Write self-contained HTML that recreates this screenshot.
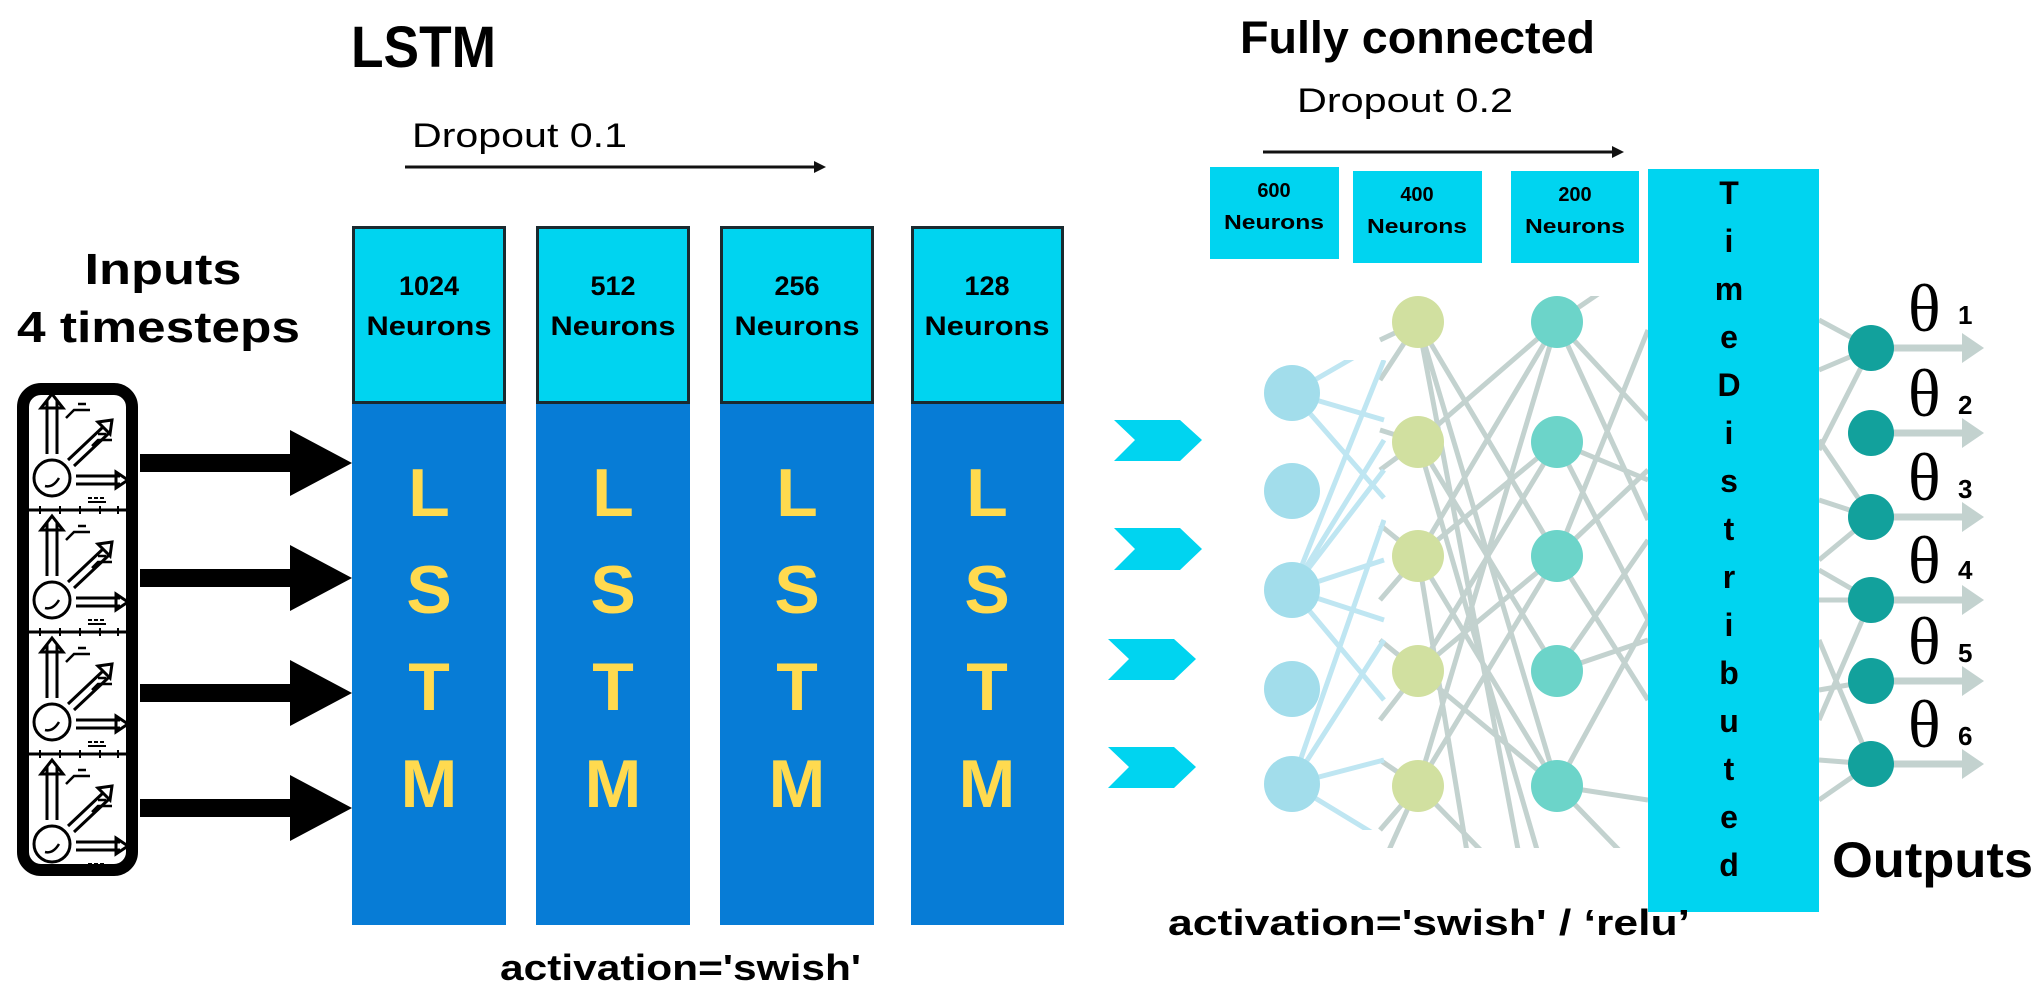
<!DOCTYPE html>
<html><head><meta charset="utf-8"><style>
html,body{margin:0;padding:0;background:#fff;}
svg{display:block;}
text{font-family:"Liberation Sans",sans-serif;}
</style></head><body>
<svg width="2043" height="997" viewBox="0 0 2043 997" xmlns="http://www.w3.org/2000/svg">
<defs>
<clipPath id="net"><rect x="1378" y="296" width="270" height="552"/></clipPath>
<clipPath id="net2"><rect x="1260" y="360" width="126" height="470"/></clipPath>
<g id="cell" fill="none" stroke="#000" stroke-width="3">
  <path d="M47 66 V12 M57 66 V12 M41 20 L52 6 L63 20 Z" fill="#fff"/>
  <circle cx="52" cy="90" r="18"/>
  <path d="M45 98 q8 2 14 -8" stroke-width="2.5"/>
  <path d="M68 72 L104 38 M74 78 L108 46 M98 34 L112 32 L110 46 Z"/>
  <path d="M76 88 H120 M76 96 H120 M116 84 L128 92 L116 100 Z"/>
  <path d="M66 30 L74 22 H90 M78 16 H86 M92 58 L98 52 H112 M98 46 H106" stroke-width="2.5"/>
  <path d="M88 110 H106" stroke-width="2" stroke-dasharray="4 2"/>
  <path d="M88 114 H106" stroke-width="2"/>
</g>
</defs>

<!-- LSTM title -->
<text x="351" y="67" font-size="58" font-weight="bold" textLength="145" lengthAdjust="spacingAndGlyphs">LSTM</text>
<text x="412" y="147" font-size="34" textLength="215" lengthAdjust="spacingAndGlyphs">Dropout 0.1</text>
<line x1="405" y1="167" x2="818" y2="167" stroke="#111" stroke-width="3"/>
<polygon points="814,161 826,167 814,173" fill="#111"/>

<!-- Inputs -->
<text x="163" y="284" font-size="44" font-weight="bold" text-anchor="middle" textLength="157" lengthAdjust="spacingAndGlyphs">Inputs</text>
<text x="17" y="342" font-size="44" font-weight="bold" textLength="283" lengthAdjust="spacingAndGlyphs">4 timesteps</text>
<rect x="23" y="389" width="109" height="481" rx="18" fill="#fff" stroke="#000" stroke-width="12"/>
<g stroke="#000" stroke-width="3">
<line x1="29" y1="510" x2="126" y2="510"/><line x1="29" y1="632" x2="126" y2="632"/><line x1="29" y1="754" x2="126" y2="754"/>
</g>
<g stroke="#000" stroke-width="2">
<path d="M40 506v8M60 506v8M80 506v8M100 506v8M118 506v8M40 628v8M60 628v8M80 628v8M100 628v8M118 628v8M40 750v8M60 750v8M80 750v8M100 750v8M118 750v8"/>
</g>
<use href="#cell" x="0" y="388"/>
<use href="#cell" x="0" y="510"/>
<use href="#cell" x="0" y="632"/>
<use href="#cell" x="0" y="754"/>
<!-- input arrows -->
<g fill="#000">
<rect x="140" y="454" width="155" height="18"/><polygon points="290,430 352,463 290,496"/>
<rect x="140" y="569" width="155" height="18"/><polygon points="290,545 352,578 290,611"/>
<rect x="140" y="684" width="155" height="18"/><polygon points="290,660 352,693 290,726"/>
<rect x="140" y="799" width="155" height="18"/><polygon points="290,775 352,808 290,841"/>
</g>

<!-- LSTM columns -->
<g>
<rect x="352" y="402" width="154" height="523" fill="#077CD6"/>
<rect x="536" y="402" width="154" height="523" fill="#077CD6"/>
<rect x="720" y="402" width="154" height="523" fill="#077CD6"/>
<rect x="911" y="402" width="153" height="523" fill="#077CD6"/>
<rect x="353.5" y="227.5" width="151" height="175" fill="#00D4F0" stroke="#1a2a30" stroke-width="3"/>
<rect x="537.5" y="227.5" width="151" height="175" fill="#00D4F0" stroke="#1a2a30" stroke-width="3"/>
<rect x="721.5" y="227.5" width="151" height="175" fill="#00D4F0" stroke="#1a2a30" stroke-width="3"/>
<rect x="912.5" y="227.5" width="150" height="175" fill="#00D4F0" stroke="#1a2a30" stroke-width="3"/>
</g>
<g font-size="27" font-weight="bold" text-anchor="middle" fill="#000">
<text x="429" y="295">1024</text><text x="429" y="335" textLength="125" lengthAdjust="spacingAndGlyphs">Neurons</text>
<text x="613" y="295">512</text><text x="613" y="335" textLength="125" lengthAdjust="spacingAndGlyphs">Neurons</text>
<text x="797" y="295">256</text><text x="797" y="335" textLength="125" lengthAdjust="spacingAndGlyphs">Neurons</text>
<text x="987" y="295">128</text><text x="987" y="335" textLength="125" lengthAdjust="spacingAndGlyphs">Neurons</text>
</g>
<g font-size="68" font-weight="bold" text-anchor="middle" fill="#FFDA4F">
<text x="429" y="516">L</text><text x="429" y="613">S</text><text x="429" y="710">T</text><text x="429" y="807">M</text>
<text x="613" y="516">L</text><text x="613" y="613">S</text><text x="613" y="710">T</text><text x="613" y="807">M</text>
<text x="797" y="516">L</text><text x="797" y="613">S</text><text x="797" y="710">T</text><text x="797" y="807">M</text>
<text x="987" y="516">L</text><text x="987" y="613">S</text><text x="987" y="710">T</text><text x="987" y="807">M</text>
</g>
<text x="500" y="980" font-size="36" font-weight="bold" textLength="361" lengthAdjust="spacingAndGlyphs">activation='swish'</text>

<!-- chevrons -->
<g fill="#00D4F0">
<polygon points="1114,420 1180,420 1202,440 1180,461 1114,461 1135,440"/>
<polygon points="1114,528 1180,528 1202,549 1180,570 1114,570 1135,549"/>
<polygon points="1108,639 1174,639 1196,659 1174,680 1108,680 1129,659"/>
<polygon points="1108,747 1174,747 1196,767 1174,788 1108,788 1129,767"/>
</g>

<!-- Fully connected -->
<text x="1240" y="53" font-size="45" font-weight="bold" textLength="355" lengthAdjust="spacingAndGlyphs">Fully connected</text>
<text x="1297" y="112" font-size="34" textLength="216" lengthAdjust="spacingAndGlyphs">Dropout 0.2</text>
<line x1="1263" y1="152" x2="1616" y2="152" stroke="#111" stroke-width="3"/>
<polygon points="1612,146 1624,152 1612,158" fill="#111"/>
<rect x="1210" y="167" width="129" height="92" fill="#00D4F0"/>
<rect x="1353" y="171" width="129" height="92" fill="#00D4F0"/>
<rect x="1511" y="171" width="128" height="92" fill="#00D4F0"/>
<g font-size="20" font-weight="bold" text-anchor="middle" fill="#000">
<text x="1274" y="197">600</text><text x="1274" y="229" textLength="100" lengthAdjust="spacingAndGlyphs">Neurons</text>
<text x="1417" y="201">400</text><text x="1417" y="233" textLength="100" lengthAdjust="spacingAndGlyphs">Neurons</text>
<text x="1575" y="201">200</text><text x="1575" y="233" textLength="100" lengthAdjust="spacingAndGlyphs">Neurons</text>
</g>

<!-- network lines grey -->
<g clip-path="url(#net)" stroke="#C3D2CF" stroke-width="5" fill="none">
<path d="M1418 322L1557 556M1418 322L1557 786M1418 322L1520 860
M1418 442L1557 322M1418 442L1557 671M1418 442L1540 860
M1418 556L1557 322M1418 556L1557 442M1418 556L1557 786M1418 556L1470 870
M1418 671L1557 442M1418 671L1557 556M1418 671L1557 786
M1418 786L1557 556M1418 786L1557 322M1418 786L1500 870
M1380 380L1418 322M1380 430L1418 442M1380 470L1418 442M1380 525L1418 556M1380 600L1418 556M1380 640L1418 671M1380 720L1418 671M1380 760L1418 786M1380 830L1418 786M1380 340L1418 322M1380 870L1418 786
M1557 322L1648 260M1557 322L1648 420M1557 442L1648 480M1557 442L1648 620M1557 556L1648 470M1557 556L1648 700M1557 671L1648 640M1557 671L1648 540M1557 786L1648 800M1557 786L1648 620M1557 322L1648 520M1557 786L1648 880M1557 556L1648 330"/>
</g>
<!-- network lines light blue -->
<g clip-path="url(#net2)" stroke="#BFE6F2" stroke-width="5" fill="none">
<path d="M1292 393L1384 340M1292 393L1384 420M1292 393L1384 498M1292 590L1384 360M1292 590L1384 470M1292 590L1384 440M1292 590L1384 560M1292 590L1384 620M1292 590L1384 700M1292 784L1384 520M1292 784L1384 640M1292 784L1384 760M1292 784L1384 840"/>
</g>
<!-- nodes -->
<g fill="#A2DDEB">
<circle cx="1292" cy="393" r="28"/><circle cx="1292" cy="491" r="28"/><circle cx="1292" cy="590" r="28"/><circle cx="1292" cy="689" r="28"/><circle cx="1292" cy="784" r="28"/>
</g>
<g fill="#D1E0A0">
<circle cx="1418" cy="322" r="26"/><circle cx="1418" cy="442" r="26"/><circle cx="1418" cy="556" r="26"/><circle cx="1418" cy="671" r="26"/><circle cx="1418" cy="786" r="26"/>
</g>
<g fill="#6CD4C9">
<circle cx="1557" cy="322" r="26"/><circle cx="1557" cy="442" r="26"/><circle cx="1557" cy="556" r="26"/><circle cx="1557" cy="671" r="26"/><circle cx="1557" cy="786" r="26"/>
</g>

<!-- output connections -->
<g stroke="#C3D2CF" stroke-width="5" fill="none">
<path d="M1819 320L1871 348M1819 370L1871 348M1871 348L1819 450M1819 440L1871 517M1819 500L1871 517M1819 560L1871 517M1819 600L1871 600M1819 570L1871 600M1871 600L1819 720M1819 640L1871 764M1819 760L1871 764M1819 800L1871 764M1819 690L1871 681"/>
<path d="M1871 348H1970M1871 433H1970M1871 517H1970M1871 600H1970M1871 681H1970M1871 764H1970" stroke-width="7"/>
</g>
<g fill="#C3D2CF">
<polygon points="1962,333 1984,348 1962,363"/><polygon points="1962,418 1984,433 1962,448"/><polygon points="1962,502 1984,517 1962,532"/>
<polygon points="1962,585 1984,600 1962,615"/><polygon points="1962,666 1984,681 1962,696"/><polygon points="1962,749 1984,764 1962,779"/>
</g>
<g fill="#12A19C">
<circle cx="1871" cy="348" r="23"/><circle cx="1871" cy="433" r="23"/><circle cx="1871" cy="517" r="23"/><circle cx="1871" cy="600" r="23"/><circle cx="1871" cy="681" r="23"/><circle cx="1871" cy="764" r="23"/>
</g>

<!-- TimeDistributed -->
<rect x="1648" y="169" width="171" height="743" fill="#00D4F0"/>
<g font-size="32" font-weight="bold" text-anchor="middle" fill="#000">
<text x="1729" y="204">T</text><text x="1729" y="252">i</text><text x="1729" y="300">m</text><text x="1729" y="348">e</text>
<text x="1729" y="396">D</text><text x="1729" y="444">i</text><text x="1729" y="492">s</text><text x="1729" y="540">t</text>
<text x="1729" y="588">r</text><text x="1729" y="636">i</text><text x="1729" y="684">b</text><text x="1729" y="732">u</text>
<text x="1729" y="780">t</text><text x="1729" y="828">e</text><text x="1729" y="876">d</text>
</g>

<!-- thetas -->
<g font-size="68" fill="#000">
<text x="1908" y="331" style="font-family:'Liberation Serif',serif">θ</text>
<text x="1908" y="416" style="font-family:'Liberation Serif',serif">θ</text>
<text x="1908" y="500" style="font-family:'Liberation Serif',serif">θ</text>
<text x="1908" y="583" style="font-family:'Liberation Serif',serif">θ</text>
<text x="1908" y="664" style="font-family:'Liberation Serif',serif">θ</text>
<text x="1908" y="747" style="font-family:'Liberation Serif',serif">θ</text>
</g>
<g font-size="26" font-weight="bold" fill="#000">
<text x="1958" y="324">1</text><text x="1958" y="414">2</text><text x="1958" y="498">3</text>
<text x="1958" y="579">4</text><text x="1958" y="662">5</text><text x="1958" y="745">6</text>
</g>
<text x="1832" y="877" font-size="50" font-weight="bold" textLength="201" lengthAdjust="spacingAndGlyphs">Outputs</text>

<text x="1168" y="935" font-size="36" font-weight="bold" textLength="522" lengthAdjust="spacingAndGlyphs">activation='swish' / ‘relu’</text>
</svg>
</body></html>
